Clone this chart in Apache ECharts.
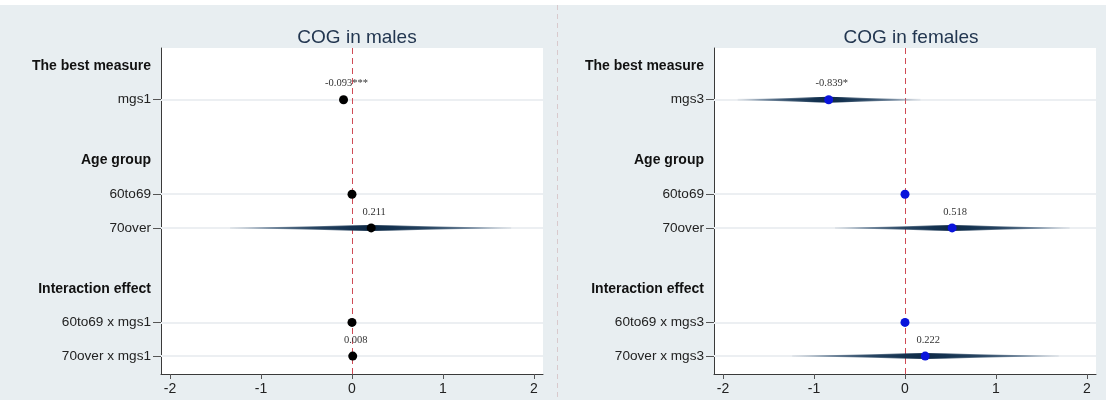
<!DOCTYPE html>
<html>
<head>
<meta charset="utf-8">
<script src="https://cdn.jsdelivr.net/npm/echarts@6/dist/echarts.min.js"></script>
<style>
html,body{margin:0;padding:0;background:#ffffff;}
#chart{width:1106px;height:400px;}
</style>
</head>
<body>
<div id="chart"></div>
<script>
// ---- data ----
var groupHeaders = ["The best measure", "Age group", "Interaction effect"];
var groupSizes = [1, 2, 2];
var maleRows = ["mgs1", "60to69", "70over", "60to69 x mgs1", "70over x mgs1"];
var femaleRows = ["mgs3", "60to69", "70over", "60to69 x mgs3", "70over x mgs3"];
var maleEst = [-0.093, 0, 0.211, 0, 0.008];
var maleLo = [null, null, -1.34, null, null];
var maleHi = [null, null, 1.75, null, null];
var maleText = ["-0.093***", "", "0.211", "", "0.008"];
var femaleEst = [-0.839, 0, 0.518, 0, 0.222];
var femaleLo = [-1.84, null, -0.77, null, -1.24];
var femaleHi = [0.17, null, 1.81, null, 1.69];
var femaleText = ["-0.839*", "", "0.518", "", "0.222"];
var xTicks = [-2, -1, 0, 1, 2];
var titles = ["COG in males", "COG in females"];

// ---- layout of rows (header row, items, gap between groups) ----
var GAP = 0.8;
var headerPos = [], rowPos = [];
(function () {
  var p = 0;
  groupSizes.forEach(function (n, g) {
    if (g > 0) p += GAP;
    headerPos.push(p);
    p += 1;
    for (var i = 0; i < n; i++) { rowPos.push(p); p += 1; }
  });
})();

function key(v) { return (Math.round(v * 100) / 100).toFixed(2); }

function makeYAxis(gridIndex, rows) {
  var map = {};
  headerPos.forEach(function (p, i) { map[key(p)] = '{h|' + groupHeaders[i] + '}'; });
  rowPos.forEach(function (p, i) { map[key(p)] = '{r|' + rows[i] + '}'; });
  return {
    type: 'value', gridIndex: gridIndex, inverse: true,
    min: -0.534, max: 9.13,
    axisLine: { show: true, onZero: false, lineStyle: { color: '#3a3a3a', width: 1 } },
    axisTick: { show: true, length: 8, customValues: rowPos.slice(), lineStyle: { color: '#555', width: 1 } },
    splitLine: { show: false },
    axisLabel: {
      margin: 10,
      customValues: headerPos.concat(rowPos),
      formatter: function (v) { return map[key(v)] || ''; },
      rich: {
        h: { fontFamily: 'Liberation Sans, Arial', fontWeight: 'bold', fontSize: 14, color: '#111' },
        r: { fontFamily: 'Liberation Sans, Arial', fontSize: 13.6, color: '#222' }
      }
    }
  };
}

function makeXAxis(gridIndex) {
  return {
    type: 'value', gridIndex: gridIndex, min: -2.1, max: 2.1,
    axisLine: { show: true, onZero: false, lineStyle: { color: '#3a3a3a', width: 1 } },
    axisTick: { show: true, length: 5, customValues: xTicks.slice(), lineStyle: { color: '#555' } },
    splitLine: { show: false },
    axisLabel: {
      customValues: xTicks.slice(), margin: 8,
      fontFamily: 'Liberation Sans, Arial', fontSize: 14, color: '#222'
    }
  };
}

function ciSeries(idx, est, lo, hi) {
  var data = [];
  est.forEach(function (e, i) {
    if (lo[i] != null && hi[i] != null) data.push([lo[i], hi[i], e, rowPos[i]]);
  });
  return {
    type: 'custom', xAxisIndex: idx, yAxisIndex: idx, silent: true, z: 3,
    data: data,
    renderItem: function (params, api) {
      var a = api.coord([api.value(0), api.value(3)]);
      var b = api.coord([api.value(1), api.value(3)]);
      var c = api.coord([api.value(2), api.value(3)]);
      var off = (c[0] - a[0]) / (b[0] - a[0]);
      var lineStops = [
        { offset: 0, color: 'rgba(150,165,180,0.15)' },
        { offset: off * 0.25, color: 'rgba(100,125,150,0.5)' },
        { offset: off * 0.6, color: 'rgba(45,75,105,0.9)' },
        { offset: off, color: 'rgba(15,42,70,1)' },
        { offset: off + (1 - off) * 0.4, color: 'rgba(45,75,105,0.9)' },
        { offset: off + (1 - off) * 0.75, color: 'rgba(100,125,150,0.5)' },
        { offset: 1, color: 'rgba(150,165,180,0.15)' }
      ];
      var bodyStops = [
        { offset: 0, color: 'rgba(60,90,120,0)' },
        { offset: off * 0.45, color: 'rgba(35,65,95,0.5)' },
        { offset: off * 0.85, color: 'rgba(20,50,80,1)' },
        { offset: off, color: 'rgba(15,42,70,1)' },
        { offset: off + (1 - off) * 0.15, color: 'rgba(20,50,80,1)' },
        { offset: off + (1 - off) * 0.55, color: 'rgba(35,65,95,0.5)' },
        { offset: 1, color: 'rgba(60,90,120,0)' }
      ];
      var h = 3;
      return {
        type: 'group',
        children: [
          { type: 'rect', shape: { x: a[0], y: a[1] - 1, width: b[0] - a[0], height: 2 },
            style: { fill: new echarts.graphic.LinearGradient(0, 0, 1, 0, lineStops) } },
          { type: 'polygon', shape: { points: [[a[0], a[1]], [c[0], c[1] - h], [b[0], b[1]], [c[0], c[1] + h]] },
            style: { fill: new echarts.graphic.LinearGradient(0, 0, 1, 0, bodyStops) } }
        ]
      };
    }
  };
}

function gridLines(idx) {
  return {
    type: 'line', xAxisIndex: idx, yAxisIndex: idx, data: [], silent: true, z: 1,
    markLine: {
      silent: true, symbol: ['none', 'none'], animation: false, z: 1,
      label: { show: false },
      data: rowPos.map(function (p) { return { yAxis: p, lineStyle: { color: '#eceff2', width: 2, type: 'solid' } }; })
    }
  };
}

function zeroLine(idx) {
  return {
    type: 'line', xAxisIndex: idx, yAxisIndex: idx, data: [], silent: true, z: 2,
    markLine: {
      silent: true, symbol: ['none', 'none'], animation: false, z: 2,
      label: { show: false },
      data: [{ xAxis: 0, lineStyle: { color: '#d04a55', width: 1, type: [6, 4], opacity: 1 } }]
    }
  };
}

function pointSeries(idx, est, texts, color) {
  return {
    type: 'scatter', xAxisIndex: idx, yAxisIndex: idx, z: 5,
    symbolSize: 9, itemStyle: { color: color, opacity: 1 },
    data: est.map(function (e, i) { return { value: [e, rowPos[i]], name: texts[i] }; }),
    label: {
      show: true, position: 'top', distance: 6, offset: [3, 0],
      formatter: function (p) { return p.name; },
      fontFamily: 'Liberation Serif, Times New Roman', fontSize: 10.5, color: '#333'
    }
  };
}

var chart = echarts.init(document.getElementById('chart'), null, { renderer: 'canvas' });
chart.setOption({
  animation: false,
  backgroundColor: '#e8eef1',
  graphic: [
    { type: 'rect', shape: { x: 0, y: 0, width: 1106, height: 5 }, style: { fill: '#ffffff' }, silent: true },
    { type: 'line', shape: { x1: 557.5, y1: 5, x2: 557.5, y2: 400 }, style: { stroke: '#d9c9cc', lineWidth: 1, lineDash: [5, 4] }, silent: true }
  ],
  title: [
    { text: titles[0], left: 352, top: 23, textAlign: 'center',
      textStyle: { fontFamily: 'Liberation Sans, Arial', fontSize: 19, fontWeight: 'normal', color: '#223650' } },
    { text: titles[1], left: 906, top: 23, textAlign: 'center',
      textStyle: { fontFamily: 'Liberation Sans, Arial', fontSize: 19, fontWeight: 'normal', color: '#223650' } }
  ],
  grid: [
    { left: 161, top: 48, width: 382, height: 326, backgroundColor: '#ffffff', show: true, borderWidth: 0 },
    { left: 714, top: 48, width: 382, height: 326, backgroundColor: '#ffffff', show: true, borderWidth: 0 }
  ],
  xAxis: [makeXAxis(0), makeXAxis(1)],
  yAxis: [makeYAxis(0, maleRows), makeYAxis(1, femaleRows)],
  series: [
    gridLines(0), zeroLine(0),
    ciSeries(0, maleEst, maleLo, maleHi),
    pointSeries(0, maleEst, maleText, '#000000'),
    gridLines(1), zeroLine(1),
    ciSeries(1, femaleEst, femaleLo, femaleHi),
    pointSeries(1, femaleEst, femaleText, '#0a14dc')
  ]
});
</script>
</body>
</html>
